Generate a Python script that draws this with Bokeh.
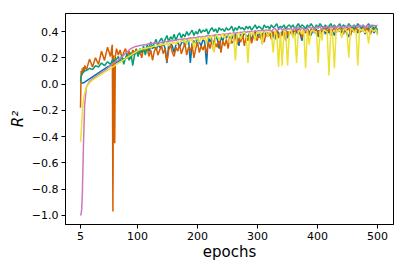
from bokeh.plotting import figure
from bokeh.models import ColumnDataSource, Range1d, FixedTicker
from bokeh.embed import file_html
from bokeh.resources import INLINE

epochs = [5, 6, 7, 8, 9, 10, 11, 12, 15, 20, 25, 30, 35, 40, 45, 50, 55, 58, 59, 60, 62, 63, 65] + list(range(68, 498, 3)) + [500]

blue = ([0.02, 0.015, 0.01, 0.008, 0.008, 0.01, 0.012, 0.015, 0.025, 0.04, 0.055, 0.07, 0.085, 0.1, 0.115, 0.13, 0.14, 0.15, 0.15, 0.155, 0.16, 0.16, 0.165]
        + [0.17, 0.175, 0.18, 0.19, 0.195, 0.2, 0.21, 0.215, 0.225, 0.23, 0.24, 0.25]
        + [0.255, 0.24, 0.27, 0.26, 0.28, 0.25, 0.285, 0.27, 0.29, 0.26, 0.3, 0.28]
        + [0.29, 0.31, 0.27, 0.16, 0.3, 0.31, 0.29, 0.24, 0.3, 0.32, 0.28, 0.31]
        + [0.33, 0.29, 0.32, 0.34, 0.16, 0.31, 0.33, 0.31, 0.35, 0.32, 0.29, 0.34]
        + [0.32, 0.15, 0.36, 0.32, 0.35, 0.3, 0.37, 0.34, 0.27, 0.36, 0.33, 0.37]
        + [0.35, 0.38, 0.31, 0.37, 0.34, 0.38, 0.36, 0.29, 0.38, 0.35, 0.39, 0.37]
        + [0.36, 0.39, 0.33, 0.38, 0.4, 0.36, 0.39, 0.37, 0.31, 0.4, 0.38, 0.39]
        + [0.37, 0.4, 0.38, 0.34, 0.41, 0.39, 0.36, 0.4, 0.38, 0.41, 0.35, 0.4]
        + [0.39, 0.41, 0.37, 0.4, 0.42, 0.38, 0.33, 0.41, 0.39, 0.42, 0.4, 0.37]
        + [0.41, 0.39, 0.42, 0.36, 0.41, 0.4, 0.43, 0.38, 0.41, 0.39, 0.42, 0.4]
        + [0.37, 0.42, 0.4, 0.43, 0.39, 0.41, 0.42, 0.38, 0.36, 0.42, 0.4, 0.43]
        + [0.41, 0.39, 0.42, 0.4, 0.43, 0.38, 0.41, 0.43, 0.4, 0.42, 0.39, 0.41]
        + [0.42])

orange = ([-0.18, 0.1, 0.07, 0.12, 0.09, 0.13, 0.1, 0.14, 0.11, 0.19, 0.13, 0.2, 0.15, 0.25, 0.18, 0.28, 0.21, 0.3, -0.97, 0.22, -0.45, 0.21, 0.27]
          + [0.22, 0.26, 0.2, 0.24, 0.27, 0.21, 0.25, 0.19, 0.26, 0.23, 0.27, 0.22]
          + [0.25, 0.2, 0.27, 0.23, 0.28, 0.21, 0.26, 0.18, 0.25, 0.28, 0.22, 0.26]
          + [0.29, 0.23, 0.27, 0.17, 0.26, 0.3, 0.24, 0.21, 0.28, 0.25, 0.3, 0.23]
          + [0.27, 0.31, 0.22, 0.28, 0.25, 0.3, 0.2, 0.27, 0.32, 0.24, 0.29, 0.26]
          + [0.3, 0.23, 0.32, 0.27, 0.34, 0.25, 0.31, 0.28, 0.35, 0.24, 0.33, 0.29]
          + [0.34, 0.27, 0.36, 0.31, 0.33, 0.37, 0.3, 0.35, 0.32, 0.38, 0.29, 0.36]
          + [0.33, 0.38, 0.31, 0.36, 0.39, 0.33, 0.37, 0.35, 0.39, 0.32, 0.38, 0.36]
          + [0.39, 0.34, 0.4, 0.37, 0.41, 0.35, 0.39, 0.37, 0.41, 0.33, 0.4, 0.38]
          + [0.41, 0.36, 0.4, 0.42, 0.38, 0.41, 0.35, 0.42, 0.39, 0.41, 0.37, 0.42]
          + [0.4, 0.43, 0.38, 0.41, 0.36, 0.42, 0.4, 0.43, 0.39, 0.42, 0.37, 0.41]
          + [0.43, 0.39, 0.42, 0.4, 0.44, 0.38, 0.42, 0.41, 0.43, 0.37, 0.42, 0.4]
          + [0.43, 0.41, 0.39, 0.42, 0.44, 0.4, 0.43, 0.41, 0.38, 0.42, 0.43, 0.41]
          + [0.42])

green = ([0.02, 0.05, 0.07, 0.08, 0.085, 0.09, 0.095, 0.1, 0.105, 0.12, 0.11, 0.14, 0.13, 0.16, 0.14, 0.17, 0.15, 0.18, 0.17, 0.19, 0.16, 0.18, 0.19]
         + [0.21, 0.17, 0.22, 0.15, 0.2, 0.23, 0.18, 0.24, 0.14, 0.22, 0.26, 0.21]
         + [0.27, 0.24, 0.29, 0.22, 0.3, 0.27, 0.32, 0.28, 0.31, 0.34, 0.29, 0.33]
         + [0.35, 0.31, 0.34, 0.37, 0.32, 0.36, 0.34, 0.38, 0.33, 0.37, 0.39, 0.35]
         + [0.38, 0.36, 0.4, 0.37, 0.39, 0.41, 0.37, 0.4, 0.38, 0.42, 0.39, 0.41]
         + [0.4, 0.42, 0.38, 0.41, 0.43, 0.4, 0.42, 0.39, 0.43, 0.41, 0.42, 0.4]
         + [0.43, 0.41, 0.42, 0.44, 0.4, 0.43, 0.41, 0.44, 0.42, 0.43, 0.41, 0.44]
         + [0.42, 0.44, 0.41, 0.43, 0.45, 0.42, 0.44, 0.43, 0.41, 0.45, 0.43, 0.44]
         + [0.42, 0.45, 0.43, 0.44, 0.46, 0.42, 0.44, 0.43, 0.45, 0.42, 0.44, 0.45]
         + [0.43, 0.45, 0.42, 0.44, 0.46, 0.43, 0.45, 0.44, 0.42, 0.45, 0.43, 0.46]
         + [0.44, 0.42, 0.45, 0.43, 0.46, 0.44, 0.43, 0.45, 0.42, 0.44, 0.46, 0.43]
         + [0.45, 0.43, 0.44, 0.46, 0.42, 0.45, 0.44, 0.43, 0.46, 0.44, 0.42, 0.45]
         + [0.43, 0.46, 0.44, 0.42, 0.45, 0.43, 0.44, 0.46, 0.43, 0.45, 0.41, 0.44]
         + [0.38])

pink = ([-1.0, -0.99, -0.95, -0.85, -0.65, -0.45, -0.3, -0.15, -0.02, 0.02, 0.04, 0.055, 0.07, 0.085, 0.1, 0.12, 0.14, 0.15, 0.155, 0.16, 0.165, 0.17, 0.175]
        + [0.182, 0.195, 0.208, 0.22, 0.233, 0.246, 0.259, 0.27, 0.277, 0.283, 0.288, 0.29]
        + [0.293, 0.296, 0.3, 0.298, 0.303, 0.307, 0.304, 0.31, 0.313, 0.309, 0.316, 0.318]
        + [0.315, 0.322, 0.325, 0.32, 0.328, 0.331, 0.327, 0.335, 0.332, 0.338, 0.341, 0.336]
        + [0.343, 0.346, 0.341, 0.349, 0.352, 0.347, 0.355, 0.351, 0.358, 0.361, 0.356, 0.363]
        + [0.36, 0.366, 0.369, 0.364, 0.371, 0.368, 0.375, 0.372, 0.378, 0.374, 0.381, 0.378]
        + [0.384, 0.38, 0.387, 0.383, 0.39, 0.386, 0.393, 0.389, 0.395, 0.392, 0.398, 0.394]
        + [0.4, 0.396, 0.403, 0.399, 0.406, 0.401, 0.408, 0.404, 0.41, 0.406, 0.412, 0.408]
        + [0.414, 0.4, 0.416, 0.425, 0.405, 0.414, 0.428, 0.41, 0.422, 0.398, 0.423, 0.419]
        + [0.425, 0.405, 0.43, 0.418, 0.435, 0.41, 0.429, 0.425, 0.4, 0.426, 0.436, 0.42]
        + [0.433, 0.415, 0.438, 0.425, 0.44, 0.41, 0.436, 0.43, 0.442, 0.42, 0.438, 0.43]
        + [0.44, 0.425, 0.445, 0.43, 0.441, 0.415, 0.442, 0.438, 0.447, 0.43, 0.443, 0.44]
        + [0.445, 0.43, 0.448, 0.44, 0.445, 0.425, 0.446, 0.44, 0.448, 0.435, 0.447, 0.443]
        + [0.445])

yellow = ([-0.44, -0.38, -0.3, -0.22, -0.16, -0.12, -0.09, -0.07, -0.02, 0.01, 0.03, 0.045, 0.06, 0.075, 0.09, 0.105, 0.12, 0.13, 0.13, 0.135, 0.14, 0.145, 0.15]
          + [0.159, 0.168, 0.176, 0.185, 0.194, 0.203, 0.211, 0.22, 0.229, 0.238, 0.246, 0.255]
          + [0.26, 0.265, 0.27, 0.268, 0.275, 0.28, 0.278, 0.285, 0.29, 0.287, 0.295, 0.3]
          + [0.298, 0.305, 0.3, 0.31, 0.29, 0.315, 0.308, 0.32, 0.3, 0.325, 0.315, 0.33]
          + [0.32, 0.335, 0.3, 0.34, 0.33, 0.345, 0.27, 0.34, 0.35, 0.32, 0.355, 0.34]
          + [0.36, 0.31, 0.365, 0.35, 0.37, 0.24, 0.36, 0.375, 0.33, 0.37, 0.38, 0.35]
          + [0.38, 0.37, 0.31, 0.385, 0.375, 0.18, 0.38, 0.39, 0.34, 0.385, 0.395, 0.37]
          + [0.16, 0.39, 0.38, 0.4, 0.33, 0.395, 0.385, 0.4, 0.3, 0.39, 0.405, 0.36]
          + [0.4, 0.39, 0.24, 0.405, 0.38, 0.13, 0.4, 0.14, 0.41, 0.395, 0.14, 0.4]
          + [0.41, 0.35, 0.395, 0.16, 0.41, 0.4, 0.38, 0.41, 0.12, 0.415, 0.3, 0.405]
          + [0.41, 0.395, 0.4, 0.16, 0.41, 0.33, 0.415, 0.405, 0.4, 0.065, 0.42, 0.38]
          + [0.12, 0.415, 0.4, 0.42, 0.35, 0.41, 0.42, 0.4, 0.2, 0.415, 0.42, 0.39]
          + [0.415, 0.14, 0.42, 0.405, 0.42, 0.39, 0.41, 0.31, 0.42, 0.41, 0.4, 0.42]
          + [0.37])

x_ticks = [5, 100, 200, 300, 400, 500]
y_ticks = [-1.0, -0.8, -0.6, -0.4, -0.2, 0.0, 0.2, 0.4]
y_tick_labels = ["\u22121.0", "\u22120.8", "\u22120.6", "\u22120.4", "\u22120.2", "0.0", "0.2", "0.4"]

series = [(blue, "#0173b2"), (orange, "#d55e00"), (green, "#029e73"), (pink, "#cc78bc"), (yellow, "#ece133")]

FONT = "DejaVu Sans"

p = figure(width=399, height=263, output_backend="svg", toolbar_location=None,
           x_range=Range1d(-20, 526.5), y_range=Range1d(-1.0685, 0.537),
           min_border_left=65, min_border_right=6, min_border_top=13, min_border_bottom=39)
p.background_fill_color = "white"
p.border_fill_color = "white"
p.outline_line_color = "black"
p.outline_line_width = 1
p.grid.visible = False

for vals, col in series:
    src = ColumnDataSource(dict(x=epochs, y=vals))
    p.line("x", "y", source=src, line_color=col, line_width=1.5)

for ax in (p.xaxis[0], p.yaxis[0]):
    ax.axis_line_color = "black"
    ax.major_tick_line_color = "black"
    ax.major_tick_in = 0
    ax.major_tick_out = 4
    ax.minor_tick_line_color = None
    ax.major_label_text_font = FONT
    ax.major_label_text_font_size = "11px"
    ax.major_label_text_color = "black"
    ax.axis_label_text_font = FONT
    ax.axis_label_text_font_size = "15px"
    ax.axis_label_text_color = "black"

p.xaxis[0].ticker = FixedTicker(ticks=x_ticks)
p.xaxis[0].axis_label = "epochs"
p.xaxis[0].axis_label_text_font_style = "normal"
p.xaxis[0].major_label_standoff = 3
p.xaxis[0].axis_label_standoff = 0

p.yaxis[0].ticker = FixedTicker(ticks=y_ticks)
p.yaxis[0].major_label_overrides = {t: l for t, l in zip(y_ticks, y_tick_labels)}
p.yaxis[0].axis_label = "R\u00b2"
p.yaxis[0].axis_label_text_font_style = "italic"
p.yaxis[0].major_label_standoff = 3
p.yaxis[0].axis_label_standoff = 2

open("out.html", "w").write(file_html(p, INLINE))
